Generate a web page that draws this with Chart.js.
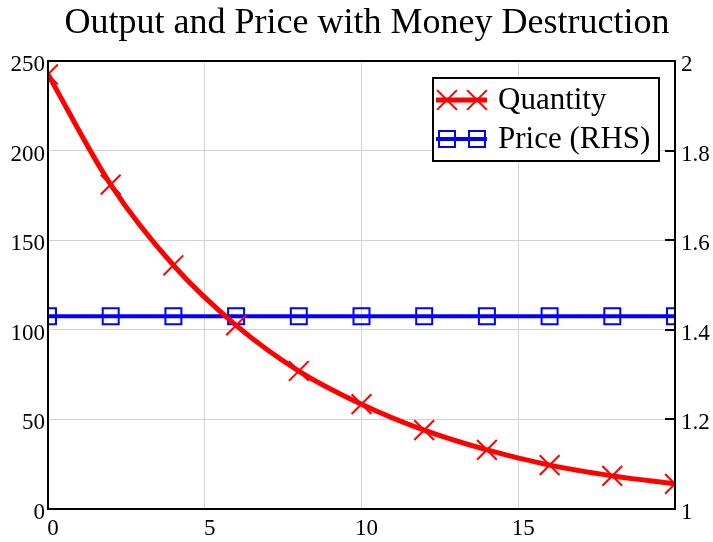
<!DOCTYPE html>
<html>
<head>
<meta charset="utf-8">
<script src="https://cdn.jsdelivr.net/npm/chart.js@4.4.0/dist/chart.umd.min.js"></script>
<style>
  html, body { margin: 0; padding: 0; background: #fff; }
  #wrap { width: 713px; height: 542px; }
</style>
</head>
<body>
<div id="wrap"><canvas id="chart" width="713" height="542"></canvas></div>
<script>
// values
var titleText = 'Output and Price with Money Destruction';
var periods = [0, 2, 4, 6, 8, 10, 12, 14, 16, 18, 20];
var quantity = [242.5, 181, 136, 102.5, 77, 58.5, 44, 33, 24.5, 18.5, 14];
var price = [1.43, 1.43, 1.43, 1.43, 1.43, 1.43, 1.43, 1.43, 1.43, 1.43, 1.43];
var seriesNames = ['Quantity', 'Price (RHS)'];

var serif = '"Liberation Serif", "Times New Roman", serif';

function toPoints(xs, ys){
	return xs.map(function(x, i){ return {x: x, y: ys[i]}; });
}

// frame, inward ticks on the right axis, title and boxed legend
var decor = {
	id: 'decor',
	afterDraw: function(chart){
		var ctx = chart.ctx, a = chart.chartArea;
		ctx.save();
		// inward tick marks of the right axis
		var y1 = chart.scales.y1;
		ctx.strokeStyle = '#000';
		ctx.lineWidth = 2;
		y1.ticks.forEach(function(t){
			var py = Math.round(y1.getPixelForValue(t.value));
			ctx.beginPath();
			ctx.moveTo(a.right - 10, py);
			ctx.lineTo(a.right, py);
			ctx.stroke();
		});
		// frame
		ctx.strokeRect(a.left, a.top, a.right - a.left, a.bottom - a.top);

		// title
		ctx.fillStyle = '#000';
		ctx.font = '36px ' + serif;
		ctx.textAlign = 'center';
		ctx.textBaseline = 'middle';
		ctx.fillText(titleText, 367, 24);

		// legend
		var bx = a.right - 242, by = a.top + 17, bw = 226, bh = 83;
		ctx.fillStyle = '#fff';
		ctx.fillRect(bx, by, bw, bh);
		ctx.strokeStyle = '#000';
		ctx.lineWidth = 2;
		ctx.strokeRect(bx, by, bw, bh);
		ctx.font = '31px ' + serif;
		ctx.textAlign = 'left';
		chart.data.datasets.forEach(function(ds, i){
			var ry = by + 22 + i * 39;
			ctx.strokeStyle = ds.borderColor;
			ctx.lineWidth = ds.borderWidth;
			ctx.beginPath();
			ctx.moveTo(bx + 3, ry);
			ctx.lineTo(bx + 54, ry);
			ctx.stroke();
			[bx + 14, bx + 44].forEach(function(mx){
				ctx.fillStyle = 'rgba(0,0,0,0)';
				ctx.strokeStyle = ds.pointBorderColor;
				ctx.lineWidth = ds.pointBorderWidth;
				Chart.helpers.drawPoint(ctx, {
					pointStyle: ds.pointStyle,
					radius: ds.pointRadius,
					borderWidth: ds.pointBorderWidth,
					rotation: 0
				}, mx, ry);
			});
			ctx.fillStyle = '#000';
			ctx.fillText(ds.label, bx + 65, ry + 1);
		});
		ctx.restore();
	}
};

var ctx = document.getElementById('chart').getContext('2d');
var chart = new Chart(ctx, {
	type: 'line',
	data: {
		datasets: [{
			label: seriesNames[0],
			data: toPoints(periods, quantity),
			yAxisID: 'y',
			borderColor: '#ff0000',
			borderWidth: 5,
			pointStyle: 'crossRot',
			pointRadius: 14,
			pointBorderWidth: 2,
			pointBorderColor: '#ff0000',
			pointBackgroundColor: 'rgba(0,0,0,0)',
			cubicInterpolationMode: 'monotone',
			fill: false
		}, {
			label: seriesNames[1],
			data: toPoints(periods, price),
			yAxisID: 'y1',
			borderColor: '#0000ff',
			borderWidth: 4,
			pointStyle: 'rect',
			pointRadius: 11.3,
			pointBorderWidth: 2,
			pointBorderColor: '#0000ff',
			pointBackgroundColor: 'rgba(0,0,0,0)',
			fill: false
		}]
	},
	options: {
		responsive: false,
		animation: false,
		events: [],
		layout: {padding: {top: 61, left: 0, right: 0, bottom: 0}},
		plugins: {
			legend: {display: false},
			title: {display: false},
			tooltip: {enabled: false}
		},
		scales: {
			x: {
				type: 'linear',
				min: 0, max: 20,
				ticks: {
					stepSize: 5,
					color: '#000',
					font: {family: serif, size: 23},
					padding: 6,
					labelOffset: 5,
					maxRotation: 0,
					callback: function(v){ return v === 20 ? '' : v; }
				},
				grid: {color: '#d3d3d3', lineWidth: 1, drawTicks: false},
				border: {color: '#000', width: 2},
				afterFit: function(s){ s.height = 33; }
			},
			y: {
				position: 'left',
				min: 0, max: 250,
				ticks: {
					stepSize: 50,
					color: '#000',
					font: {family: serif, size: 23},
					padding: 3,
					labelOffset: 4
				},
				grid: {color: '#d3d3d3', lineWidth: 1, drawTicks: false},
				border: {color: '#000', width: 2},
				afterFit: function(s){ s.width = 48; }
			},
			y1: {
				position: 'right',
				min: 1, max: 2,
				ticks: {
					stepSize: 0.2,
					color: '#000',
					font: {family: serif, size: 23},
					padding: 6,
					labelOffset: 4,
					callback: function(v){ return String(Number(v.toFixed(1))); }
				},
				grid: {drawOnChartArea: false, drawTicks: false},
				border: {color: '#000', width: 2},
				afterFit: function(s){ s.width = 38; }
			}
		}
	},
	plugins: [decor]
});
</script>
</body>
</html>
